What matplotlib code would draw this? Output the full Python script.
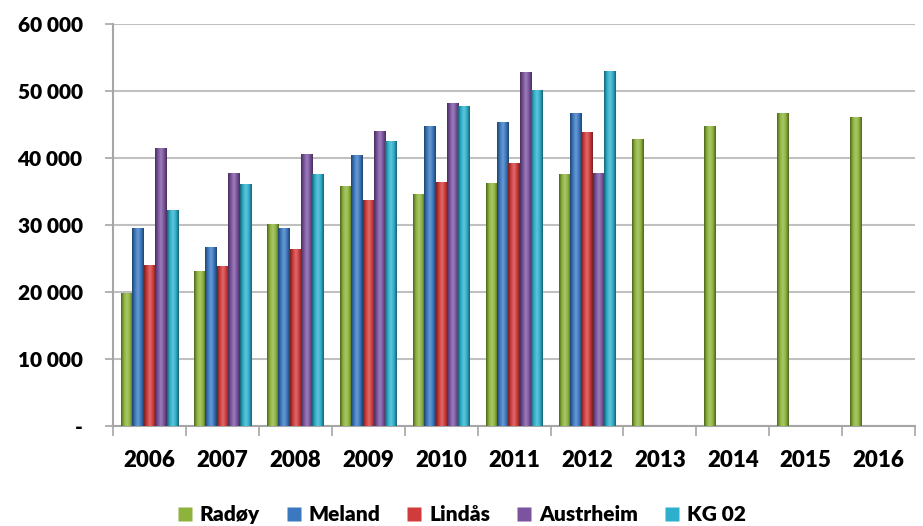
import numpy as np
import matplotlib
matplotlib.use("Agg")
import matplotlib.pyplot as plt
from matplotlib.colors import to_rgb, LinearSegmentedColormap
from matplotlib.lines import Line2D

years = ["2006", "2007", "2008", "2009", "2010", "2011", "2012", "2013", "2014", "2015", "2016"]
radoy = [19800, 23100, 30200, 35800, 34700, 36300, 37600, 42800, 44800, 46800, 46200]
meland = [29600, 26700, 29500, 40500, 44800, 45400, 46800]
lindas = [24100, 23900, 26400, 33700, 36400, 39300, 43900]
austrheim = [41500, 37800, 40600, 44100, 48300, 52900, 37800]
kg02 = [32300, 36200, 37600, 42600, 47800, 50200, 53000]

series_names = ["Radøy", "Meland", "Lindås", "Austrheim", "KG 02"]
series_values = [radoy, meland, lindas, austrheim, kg02]
colors = ["#8DB33C", "#3B78C0", "#D03C3B", "#7B539F", "#2EAFCB"]

plt.rcParams['font.family'] = ['Lato', 'DejaVu Sans']
W = 'heavy'

fig = plt.figure(figsize=(9.23, 5.26), dpi=100)
ax = fig.add_axes([0.1225, 0.19, 0.869, 0.764])

n = len(series_names)
bw = 0.156
x = np.arange(len(years))
offsets = (np.arange(n) - (n - 1) / 2) * bw

def shade(c):
    r, g, b = to_rgb(c)
    dark = tuple(v * 0.55 for v in (r, g, b))
    mid = (r, g, b)
    light = tuple(min(1, v + (1 - v) * 0.25) for v in (r, g, b))
    return LinearSegmentedColormap.from_list("s", [dark, mid, light, mid, dark])

grad = np.linspace(0, 1, 64).reshape(1, -1)
for i, (name, vals) in enumerate(zip(series_names, series_values)):
    xs = x[:len(vals)] + offsets[i]
    bars = ax.bar(xs, vals, width=bw, color=colors[i], edgecolor='none', zorder=3)
    cmap = shade(colors[i])
    for b in bars:
        x0, y0 = b.get_x(), b.get_y()
        w, h = b.get_width(), b.get_height()
        im = ax.imshow(grad, cmap=cmap, aspect='auto', extent=(x0, x0 + w, y0, y0 + h),
                       zorder=4, interpolation='bilinear')
        im.set_clip_path(b)

ax.set_xlim(-0.5, len(years) - 0.5)
ax.set_ylim(0, 60000)
yt = np.arange(0, 60001, 10000)
ax.set_yticks(yt)
ax.set_yticklabels(["-"] + [f"{v // 1000} 000" for v in yt[1:]], fontsize=15, fontweight=W)
ax.set_xticks(x)
ax.set_xticklabels(years, fontsize=16, fontweight=W)
ax.set_xticks(np.arange(-0.5, len(years)), minor=True)
ax.tick_params(axis='x', which='major', length=0, pad=17)
ax.tick_params(axis='x', which='minor', length=7, width=1.2, color='#A6A6A6')
ax.tick_params(axis='y', length=6, width=1.2, color='#A6A6A6', pad=16)
ax.grid(axis='y', color='#C0C0C0', linewidth=1.5, zorder=0)
ax.set_axisbelow(True)
for s in ['top', 'right']:
    ax.spines[s].set_visible(False)
for s in ['left', 'bottom']:
    ax.spines[s].set_color('#A6A6A6')
    ax.spines[s].set_linewidth(1.5)

handles = [Line2D([], [], linestyle='none', marker='s', markersize=10,
                  markerfacecolor=c, markeredgecolor='none') for c in colors]
fig.legend(handles, series_names, loc='center', ncol=5, frameon=False,
           bbox_to_anchor=(0.5, 0.021), prop={'size': 15, 'weight': W},
           handlelength=0.7, handletextpad=0.35, columnspacing=1.3)

fig.savefig("out.png", dpi=100)
